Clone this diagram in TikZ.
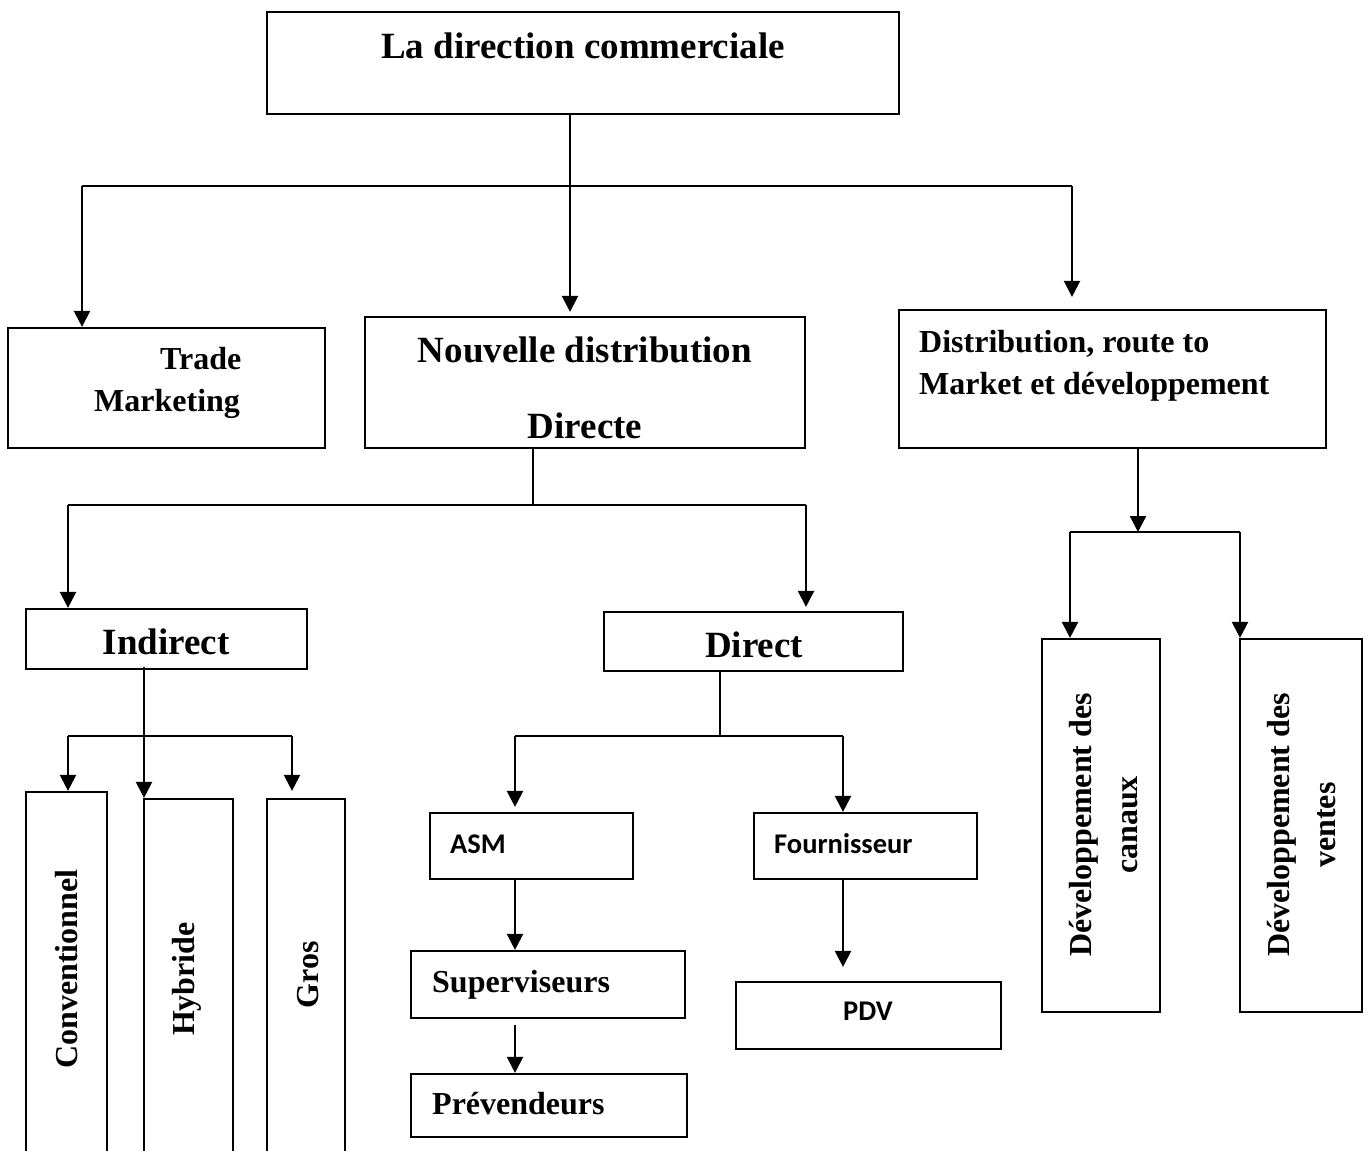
\documentclass[tikz,border=0pt]{standalone}
\usepackage{fontspec}
\setmainfont{Liberation Serif}
\newfontfamily\calfont{Carlito}
\usetikzlibrary{arrows.meta}
\begin{document}
\begin{tikzpicture}[x=1pt,y=-1pt,
  box/.style={draw, line width=2.2pt, inner sep=0pt, rectangle},
  link/.style={line width=2.3pt},
  arr/.style={line width=2.3pt, -{Triangle[width=16pt,length=16pt]}},
  big/.style={font=\bfseries\fontsize{37}{44}\selectfont, inner sep=0pt},
  mid/.style={font=\bfseries\fontsize{32}{42}\selectfont, inner sep=0pt},
  cal/.style={font=\calfont\bfseries\fontsize{28.5}{34}\selectfont, inner sep=0pt},
  vert/.style={font=\bfseries\fontsize{32}{46}\selectfont, inner sep=0pt, rotate=90, align=center}]
\useasboundingbox (0,0) rectangle (1368,1151);
\clip (0,0) rectangle (1368,1151);

% boxes
\node[box, minimum width=632, minimum height=102] (top)    at (583,63)     {};
\node[box, minimum width=317, minimum height=120] (trade)  at (166.5,388)  {};
\node[box, minimum width=440, minimum height=131] (nouv)   at (585,382.5)  {};
\node[box, minimum width=427, minimum height=138] (dist)   at (1112.5,379) {};
\node[box, minimum width=281, minimum height=60]  (ind)    at (166.5,639)  {};
\node[box, minimum width=299, minimum height=59]  (dir)    at (753.5,641.5){};
\node[box, minimum width=81,  minimum height=408] (conv)   at (66.5,996)   {};
\node[box, minimum width=89,  minimum height=401] (hyb)    at (188.5,999.5){};
\node[box, minimum width=78,  minimum height=401] (gros)   at (306,999.5)  {};
\node[box, minimum width=203, minimum height=66]  (asm)    at (531.5,846)  {};
\node[box, minimum width=223, minimum height=66]  (four)   at (865.5,846)  {};
\node[box, minimum width=274, minimum height=67]  (sup)    at (548,984.5)  {};
\node[box, minimum width=276, minimum height=63]  (prev)   at (549,1105.5) {};
\node[box, minimum width=265, minimum height=67]  (pdv)    at (868.5,1015.5){};
\node[box, minimum width=118, minimum height=373] (canaux) at (1101,825.5)  {};
\node[box, minimum width=122, minimum height=373] (ventes) at (1301,825.5)  {};

% labels
\node[big, anchor=base] (t-top) at (583,58) {La direction commerciale};
\node[big, anchor=base] (t-nouv1) at (585,362) {Nouvelle distribution};
\node[big, anchor=base] (t-nouv2) at (585,438) {Directe};
\node[mid, anchor=base west] (t-trade1) at (160,369) {Trade};
\node[mid, anchor=base west] (t-trade2) at (94,411) {Marketing};
\node[mid, anchor=base west] (t-dist1) at (919,352) {Distribution, route to};
\node[mid, anchor=base west] (t-dist2) at (919,394) {Market et développement};
\node[big, anchor=base] (t-ind) at (166,654) {Indirect};
\node[big, anchor=base] (t-dir) at (754,657) {Direct};
\node[cal, anchor=base west] (t-asm) at (450,853) {ASM};
\node[cal, anchor=base west] (t-four) at (774,853) {Fournisseur};
\node[mid, anchor=base west] (t-sup) at (432,992) {Superviseurs};
\node[mid, anchor=base west] (t-prev) at (432,1114) {Prévendeurs};
\node[cal, anchor=base] (t-pdv) at (868,1020) {PDV};
\node[vert, anchor=base] (t-conv) at (77,969) {Conventionnel};
\node[vert, anchor=base] (t-hyb) at (194,979) {Hybride};
\node[vert, anchor=base] (t-gros) at (318,975) {Gros};
\node[vert] (t-canaux) at (1104,825) {Développement des\\canaux};
\node[vert] (t-ventes) at (1302,825) {Développement des\\ventes};

% junction points
\coordinate (h1) at (570,186);
\coordinate (h1l) at (82,186);
\coordinate (h1r) at (1072,186);
\coordinate (h2) at (533,505);
\coordinate (h2l) at (68,505);
\coordinate (h2r) at (806,505);
\coordinate (h3) at (144,736);
\coordinate (h3l) at (68,736);
\coordinate (h3r) at (292,736);
\coordinate (h4) at (720,736);
\coordinate (h4l) at (515,736);
\coordinate (h4r) at (843,736);
\coordinate (h5) at (1138,532);
\coordinate (h5l) at (1070,532);
\coordinate (h5r) at (1240,532);

% connectors: direction commerciale
\draw[link] (top.south -| h1) -- (h1);
\draw[link] (h1l) -- (h1r);
\draw[arr] (h1l) -- (h1l |- trade.north);
\draw[arr, shorten >=4pt] (h1) -- (h1 |- nouv.north);
\draw[arr, shorten >=12pt] (h1r) -- (h1r |- dist.north);

% connectors: nouvelle distribution
\draw[link] (nouv.south -| h2) -- (h2);
\draw[link] (h2l) -- (h2r);
\draw[arr] (h2l) -- (h2l |- ind.north);
\draw[arr, shorten >=4pt] (h2r) -- (h2r |- dir.north);

% connectors: indirect
\draw[arr] ([yshift=3pt]ind.south -| h3) -- (h3 |- hyb.north);
\draw[link] (h3l) -- (h3r);
\draw[arr] (h3l) -- (h3l |- conv.north);
\draw[arr, shorten >=7pt] (h3r) -- (h3r |- gros.north);

% connectors: direct
\draw[link] (dir.south -| h4) -- (h4);
\draw[link] (h4l) -- (h4r);
\draw[arr, shorten >=5pt] (h4l) -- (h4l |- asm.north);
\draw[arr] (h4r) -- (h4r |- four.north);
\draw[arr] (asm.south -| h4l) -- (h4l |- sup.north);
\draw[arr] ([yshift=-6pt]sup.south -| h4l) -- (h4l |- prev.north);
\draw[arr, shorten >=14pt] (four.south -| h4r) -- (h4r |- pdv.north);

% connectors: distribution, route to market
\draw[arr] (dist.south -| h5) -- (h5);
\draw[link] (h5l) -- (h5r);
\draw[arr] (h5l) -- (h5l |- canaux.north);
\draw[arr] (h5r) -- (h5r |- ventes.north);
\end{tikzpicture}
\end{document}
